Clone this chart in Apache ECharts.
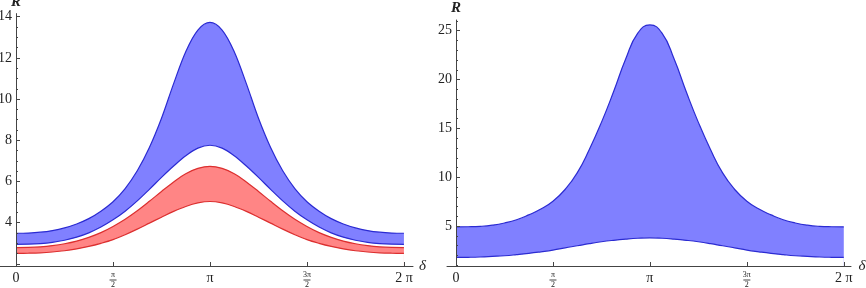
<!DOCTYPE html>
<html>
<head>
<meta charset="utf-8">
<script src="https://cdn.jsdelivr.net/npm/echarts@6/dist/echarts.min.js"></script>
<style>
  html, body { margin: 0; background: #fff; }
  #chart { width: 866px; height: 288px; }
</style>
</head>
<body>
<div id="chart"></div>
<script>
// δ sampled every π/16 from 0 to 2π
const delta = Array.from({ length: 33 }, (_, k) => k * Math.PI / 16);

// left panel
const leftBlueUpper = [3.49, 3.50, 3.54, 3.62, 3.75, 3.94, 4.20, 4.56, 5.02, 5.66, 6.52, 7.65, 9.07, 10.75, 12.30, 13.35, 13.72,
    13.35, 12.30, 10.75, 9.07, 7.65, 6.52, 5.66, 5.02, 4.56, 4.20, 3.94, 3.75, 3.62, 3.54, 3.50, 3.49];
const leftBlueLower = [2.95, 2.96, 2.99, 3.05, 3.15, 3.30, 3.51, 3.79, 4.14, 4.56, 5.06, 5.62, 6.20, 6.75, 7.25, 7.62, 7.76,
    7.62, 7.25, 6.75, 6.20, 5.62, 5.06, 4.56, 4.14, 3.79, 3.51, 3.30, 3.15, 3.05, 2.99, 2.96, 2.95];
const leftRedUpper = [2.79, 2.80, 2.83, 2.89, 2.98, 3.11, 3.29, 3.52, 3.82, 4.17, 4.58, 5.04, 5.52, 5.98, 6.38, 6.64, 6.74,
    6.64, 6.38, 5.98, 5.52, 5.04, 4.58, 4.17, 3.82, 3.52, 3.29, 3.11, 2.98, 2.89, 2.83, 2.80, 2.79];
const leftRedLower = [2.51, 2.52, 2.54, 2.58, 2.64, 2.73, 2.85, 3.00, 3.18, 3.42, 3.69, 3.98, 4.27, 4.55, 4.79, 4.96, 5.03,
    4.96, 4.79, 4.55, 4.27, 3.98, 3.69, 3.42, 3.18, 3.00, 2.85, 2.73, 2.64, 2.58, 2.54, 2.52, 2.51];

// right panel
const rightBlueUpper = [4.93, 4.94, 4.98, 5.10, 5.32, 5.65, 6.15, 6.75, 7.55, 8.75, 10.45, 12.85, 15.62, 18.75, 22.10, 24.75, 25.60,
    24.75, 22.10, 18.75, 15.62, 12.85, 10.45, 8.75, 7.55, 6.75, 6.15, 5.65, 5.32, 5.10, 4.98, 4.94, 4.93];
const rightBlueLower = [1.80, 1.81, 1.84, 1.90, 1.97, 2.08, 2.21, 2.37, 2.55, 2.78, 2.99, 3.21, 3.40, 3.55, 3.67, 3.76, 3.80,
    3.76, 3.67, 3.55, 3.40, 3.21, 2.99, 2.78, 2.55, 2.37, 2.21, 2.08, 1.97, 1.90, 1.84, 1.81, 1.80];

// ticks
const xTickValues = [0, Math.PI / 2, Math.PI, 3 * Math.PI / 2, 2 * Math.PI];
const xTickLabels = ['0', 'π/2', 'π', '3π/2', '2 π'];
const leftYMajor = [2, 4, 6, 8, 10, 12, 14];
const leftYLabels = [4, 6, 8, 10, 12, 14];
const leftYMinor = [2.5, 3, 3.5, 4.5, 5, 5.5, 6.5, 7, 7.5, 8.5, 9, 9.5, 10.5, 11, 11.5, 12.5, 13, 13.5];
const rightYLabels = [5, 10, 15, 20, 25];
const rightYMinor = [1, 2, 3, 4, 6, 7, 8, 9, 11, 12, 13, 14, 16, 17, 18, 19, 21, 22, 23, 24, 26];

const BLUE_FILL = '#8080ff', BLUE_LINE = '#2b2bd2';
const RED_FILL = '#ff8585', RED_LINE = '#dc2f2f';
const AXIS = '#444';
const FONT = 'Liberation Serif';

const pts = arr => delta.map((d, i) => [d, arr[i]]);

function xLabel(v) {
    const i = xTickValues.findIndex(t => Math.abs(t - v) < 1e-6);
    const s = i >= 0 ? xTickLabels[i] : '';
    if (s.indexOf('/') < 0) return s;
    const [n, d] = s.split('/');
    return '{n|' + n + '}\n{b|}\n{d|' + d + '}';
}

function xAxisCfg(grid, min, max, nameGap) {
    return {
        type: 'value', gridIndex: grid, min: min, max: max, z: 10,
        name: 'δ', nameLocation: 'end', nameGap: nameGap,
        nameTextStyle: { fontFamily: FONT, fontStyle: 'italic', fontSize: 15, color: '#222', verticalAlign: 'middle' },
        axisLine: { onZero: false, lineStyle: { color: AXIS, width: 1 } },
        axisTick: { customValues: xTickValues, inside: true, length: 4, lineStyle: { color: AXIS } },
        axisLabel: {
            customValues: xTickValues, formatter: xLabel, margin: 5,
            fontFamily: FONT, fontSize: 14, color: '#222',
            rich: {
                n: { fontFamily: FONT, fontSize: 8, lineHeight: 8, color: '#222' },
                b: { width: 7, height: 1, lineHeight: 2, backgroundColor: '#444' },
                d: { fontFamily: FONT, fontSize: 8, lineHeight: 8, color: '#222' }
            }
        },
        splitLine: { show: false }
    };
}

function yAxisCfg(grid, min, max, offset, major, labels, nameGap) {
    return {
        type: 'value', gridIndex: grid, position: 'left', offset: offset,
        min: min, max: max, z: 10,
        name: 'R', nameLocation: 'end', nameGap: nameGap,
        nameTextStyle: { fontFamily: FONT, fontStyle: 'italic', fontWeight: 'bold', fontSize: 15, color: '#222' },
        axisLine: { show: true, onZero: false, lineStyle: { color: AXIS, width: 1 } },
        axisTick: { customValues: major, inside: true, length: 4, lineStyle: { color: AXIS } },
        axisLabel: { customValues: labels, margin: 4, fontFamily: FONT, fontSize: 14, color: '#222' },
        splitLine: { show: false }
    };
}

function yMinorCfg(grid, min, max, offset, minor) {
    return {
        type: 'value', gridIndex: grid, position: 'left', offset: offset,
        min: min, max: max, z: 10,
        axisLine: { show: false, onZero: false },
        axisTick: { customValues: minor, inside: true, length: 2, lineStyle: { color: AXIS } },
        axisLabel: { show: false },
        splitLine: { show: false }
    };
}

// each curve fills down to the axis; lower edges of bands fill white over it
function curve(name, x, y, data, color, fill, smooth) {
    return {
        name: name, type: 'line', xAxisIndex: x, yAxisIndex: y, data: pts(data),
        smooth: smooth, showSymbol: false, silent: true,
        lineStyle: { color: color, width: 1.2 },
        areaStyle: { color: fill, opacity: 1, origin: 'start' }
    };
}

const chart = echarts.init(document.getElementById('chart'));
chart.setOption({
    animation: false,
    grid: [
        { left: 0, right: 453, top: 13.6, bottom: 22, outerBoundsMode: 'none' },
        { left: 447, right: 15, top: 20, bottom: 22, outerBoundsMode: 'none' }
    ],
    xAxis: [
        xAxisCfg(0, -0.26, 6.43, 6),
        xAxisCfg(1, -0.146, 6.40, 2)
    ],
    yAxis: [
        yAxisCfg(0, 1.9, 14.15, -16, leftYMajor, leftYLabels, 2),
        yAxisCfg(1, 0.92, 26.1, -9, rightYLabels, rightYLabels, 4),
        yMinorCfg(0, 1.9, 14.15, -16, leftYMinor),
        yMinorCfg(1, 0.92, 26.1, -9, rightYMinor)
    ],
    series: [
        curve('blueUpper', 0, 0, leftBlueUpper, BLUE_LINE, BLUE_FILL, 0.35),
        curve('blueLower', 0, 0, leftBlueLower, BLUE_LINE, '#fff', 0.35),
        curve('redUpper', 0, 0, leftRedUpper, RED_LINE, RED_FILL, 0.35),
        curve('redLower', 0, 0, leftRedLower, RED_LINE, '#fff', 0.35),
        curve('rBlueUpper', 1, 1, rightBlueUpper, BLUE_LINE, BLUE_FILL, 0.5),
        curve('rBlueLower', 1, 1, rightBlueLower, BLUE_LINE, '#fff', 0.5)
    ]
});
</script>
</body>
</html>
